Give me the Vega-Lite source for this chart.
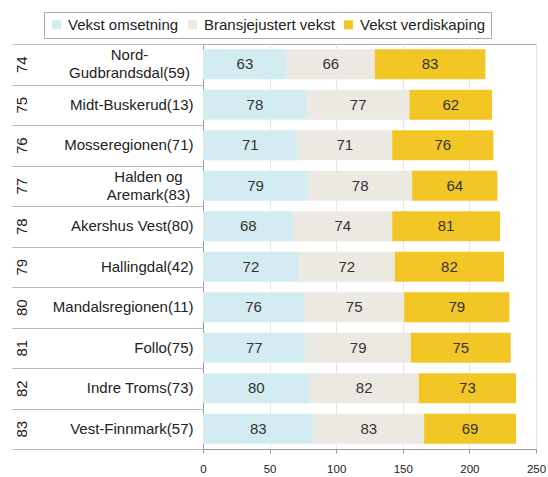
{
  "$schema": "https://vega.github.io/schema/vega-lite/v6.json",
  "width": 333,
  "height": 405,
  "autosize": "none",
  "padding": {"left": 203, "top": 44, "right": 12, "bottom": 28},
  "background": "white",
  "config": {
    "font": "Liberation Sans",
    "view": {"stroke": "#aaaaaa"}
  },
  "data": {
    "values": [
      {"rank": 74, "region": "Nord-Gudbrandsdal(59)", "series": "Vekst omsetning", "i": 1, "value": 63},
      {"rank": 74, "region": "Nord-Gudbrandsdal(59)", "series": "Bransjejustert vekst", "i": 2, "value": 66},
      {"rank": 74, "region": "Nord-Gudbrandsdal(59)", "series": "Vekst verdiskaping", "i": 3, "value": 83},
      {"rank": 75, "region": "Midt-Buskerud(13)", "series": "Vekst omsetning", "i": 1, "value": 78},
      {"rank": 75, "region": "Midt-Buskerud(13)", "series": "Bransjejustert vekst", "i": 2, "value": 77},
      {"rank": 75, "region": "Midt-Buskerud(13)", "series": "Vekst verdiskaping", "i": 3, "value": 62},
      {"rank": 76, "region": "Mosseregionen(71)", "series": "Vekst omsetning", "i": 1, "value": 71},
      {"rank": 76, "region": "Mosseregionen(71)", "series": "Bransjejustert vekst", "i": 2, "value": 71},
      {"rank": 76, "region": "Mosseregionen(71)", "series": "Vekst verdiskaping", "i": 3, "value": 76},
      {"rank": 77, "region": "Halden og Aremark(83)", "series": "Vekst omsetning", "i": 1, "value": 79},
      {"rank": 77, "region": "Halden og Aremark(83)", "series": "Bransjejustert vekst", "i": 2, "value": 78},
      {"rank": 77, "region": "Halden og Aremark(83)", "series": "Vekst verdiskaping", "i": 3, "value": 64},
      {"rank": 78, "region": "Akershus Vest(80)", "series": "Vekst omsetning", "i": 1, "value": 68},
      {"rank": 78, "region": "Akershus Vest(80)", "series": "Bransjejustert vekst", "i": 2, "value": 74},
      {"rank": 78, "region": "Akershus Vest(80)", "series": "Vekst verdiskaping", "i": 3, "value": 81},
      {"rank": 79, "region": "Hallingdal(42)", "series": "Vekst omsetning", "i": 1, "value": 72},
      {"rank": 79, "region": "Hallingdal(42)", "series": "Bransjejustert vekst", "i": 2, "value": 72},
      {"rank": 79, "region": "Hallingdal(42)", "series": "Vekst verdiskaping", "i": 3, "value": 82},
      {"rank": 80, "region": "Mandalsregionen(11)", "series": "Vekst omsetning", "i": 1, "value": 76},
      {"rank": 80, "region": "Mandalsregionen(11)", "series": "Bransjejustert vekst", "i": 2, "value": 75},
      {"rank": 80, "region": "Mandalsregionen(11)", "series": "Vekst verdiskaping", "i": 3, "value": 79},
      {"rank": 81, "region": "Follo(75)", "series": "Vekst omsetning", "i": 1, "value": 77},
      {"rank": 81, "region": "Follo(75)", "series": "Bransjejustert vekst", "i": 2, "value": 79},
      {"rank": 81, "region": "Follo(75)", "series": "Vekst verdiskaping", "i": 3, "value": 75},
      {"rank": 82, "region": "Indre Troms(73)", "series": "Vekst omsetning", "i": 1, "value": 80},
      {"rank": 82, "region": "Indre Troms(73)", "series": "Bransjejustert vekst", "i": 2, "value": 82},
      {"rank": 82, "region": "Indre Troms(73)", "series": "Vekst verdiskaping", "i": 3, "value": 73},
      {"rank": 83, "region": "Vest-Finnmark(57)", "series": "Vekst omsetning", "i": 1, "value": 83},
      {"rank": 83, "region": "Vest-Finnmark(57)", "series": "Bransjejustert vekst", "i": 2, "value": 83},
      {"rank": 83, "region": "Vest-Finnmark(57)", "series": "Vekst verdiskaping", "i": 3, "value": 69}
    ]
  },
  "layer": [
    {
      "encoding": {
        "y": {
          "field": "region",
          "type": "nominal",
          "sort": {"field": "rank", "op": "min"},
          "scale": {"paddingInner": 0.26, "paddingOuter": 0.13},
          "axis": {
            "orient": "left",
            "title": null,
            "ticks": false,
            "domainColor": "#999999",
            "labelFontSize": 15,
            "labelColor": "#222222",
            "labelLineHeight": 18,
            "labelLimit": 200,
            "labelAlign": {
              "condition": {"test": "datum.value == 'Nord-Gudbrandsdal(59)' || datum.value == 'Halden og Aremark(83)'", "value": "center"},
              "value": "right"
            },
            "labelPadding": {
              "condition": [
                {"test": "datum.value == 'Nord-Gudbrandsdal(59)'", "value": 74},
                {"test": "datum.value == 'Halden og Aremark(83)'", "value": 55}
              ],
              "value": 10
            },
            "labelOffset": {
              "condition": {"test": "datum.value == 'Nord-Gudbrandsdal(59)' || datum.value == 'Halden og Aremark(83)'", "value": -9},
              "value": 0
            },
            "labelExpr": "datum.value == 'Nord-Gudbrandsdal(59)' ? ['Nord-', 'Gudbrandsdal(59)'] : datum.value == 'Halden og Aremark(83)' ? ['Halden og', 'Aremark(83)'] : datum.value"
          }
        }
      },
      "layer": [
        {
          "mark": {"type": "bar"},
          "encoding": {
            "x": {
              "field": "value",
              "type": "quantitative",
              "stack": "zero",
              "scale": {"domain": [0, 250], "nice": false},
              "axis": {
                "title": null,
                "values": [0, 50, 100, 150, 200, 250],
                "grid": true,
                "gridColor": "#e6e6e6",
                "domainColor": "#999999",
                "tickColor": "#999999",
                "tickSize": 4,
                "labelFontSize": 11.5,
                "labelColor": "#222222",
                "labelPadding": 10,
                "labelFlush": false
              }
            },
            "color": {
              "field": "series",
              "type": "nominal",
              "scale": {
                "domain": ["Vekst omsetning", "Bransjejustert vekst", "Vekst verdiskaping"],
                "range": ["#d3ecf1", "#ebe9e2", "#f2c624"]
              },
              "legend": {
                "orient": "none",
                "legendX": -159,
                "legendY": -32,
                "direction": "horizontal",
                "title": null,
                "symbolType": "square",
                "symbolSize": 81,
                "symbolStrokeWidth": 0,
                "symbolOpacity": 1,
                "labelFontSize": 15,
                "labelColor": "#222222",
                "padding": 5,
                "symbolOffset": 0,
                "labelOffset": 4,
                "columnPadding": 6,
                "strokeColor": "#aaaaaa",
                "fillColor": "white"
              }
            },
            "order": {"field": "i", "type": "quantitative"}
          }
        },
        {
          "mark": {"type": "text", "fontSize": 15, "color": "#333333"},
          "encoding": {
            "x": {"field": "value", "type": "quantitative", "stack": "zero", "bandPosition": 0.5},
            "text": {"field": "value", "type": "quantitative"},
            "order": {"field": "i", "type": "quantitative"}
          }
        }
      ]
    },
    {
      "mark": {"type": "point", "opacity": 0},
      "encoding": {
        "y": {
          "field": "rank",
          "type": "ordinal",
          "scale": {"padding": 0.5},
          "axis": {
            "orient": "left",
            "title": null,
            "domain": false,
            "tickSize": 191,
            "tickColor": "#bbbbbb",
            "tickOffset": -20.25,
            "labelOffset": 20.25,
            "labelPadding": -9,
            "labelAngle": -90,
            "labelAlign": "center",
            "labelBaseline": "middle",
            "labelFontSize": 15,
            "labelColor": "#222222"
          }
        }
      }
    },
    {
      "mark": {"type": "point", "opacity": 0},
      "encoding": {
        "y": {
          "field": "rank",
          "type": "ordinal",
          "scale": {"padding": 0.5},
          "axis": {
            "orient": "left",
            "title": null,
            "domain": false,
            "labels": false,
            "tickSize": 191,
            "tickColor": "#bbbbbb",
            "tickOffset": 20.25
          }
        }
      }
    }
  ],
  "resolve": {"scale": {"y": "independent"}, "axis": {"y": "independent"}}
}
